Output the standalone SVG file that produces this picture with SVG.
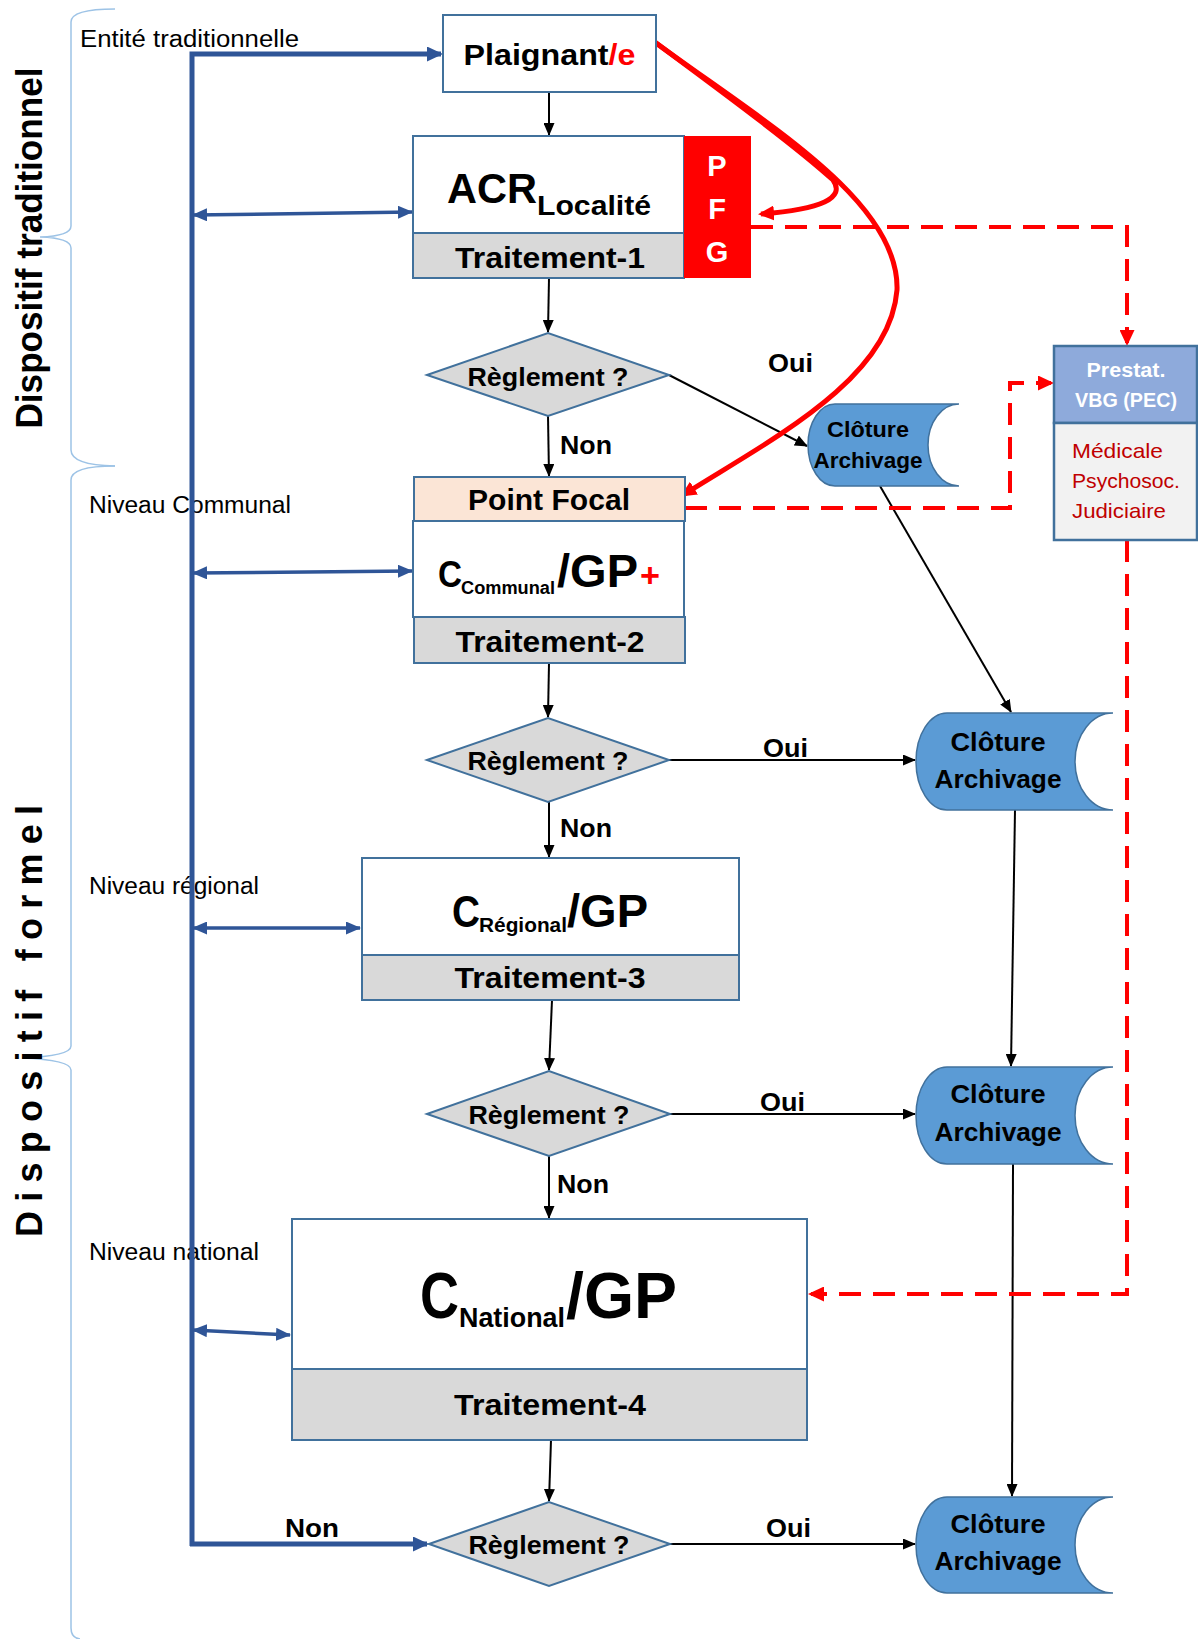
<svg xmlns="http://www.w3.org/2000/svg" width="1198" height="1639" viewBox="0 0 1198 1639">
<style>
text{font-family:"Liberation Sans",Arial,sans-serif;fill:#000}
.b{font-weight:bold}
.box{fill:#fff;stroke:#41719C;stroke-width:2}
.gray{fill:#D9D9D9;stroke:#41719C;stroke-width:2}
.dia{fill:#D9D9D9;stroke:#41719C;stroke-width:2}
.clo{fill:#5B9BD5;stroke:#41719C;stroke-width:1.5}
.blk{stroke:#000;stroke-width:2;fill:none;marker-end:url(#ak)}
.blue{stroke:#2F5597;stroke-width:5;fill:none;marker-end:url(#ab)}
.blue2{stroke:#2F5597;stroke-width:3.5;fill:none;marker-start:url(#ab2);marker-end:url(#ab2)}
.rd{stroke:#FF0000;stroke-width:4;stroke-dasharray:22 12;fill:none;marker-end:url(#ar)}
.rs{stroke:#FF0000;stroke-width:5;fill:none;marker-end:url(#ar)}
.brace{stroke:#9DC3E6;stroke-width:1.5;fill:none}
.lvl{font-size:23px}
.reg{font-size:26px;font-weight:bold}
.lab{font-size:26px;font-weight:bold}
.tr{font-size:30px;font-weight:bold}
.sub{font-weight:bold}
</style>
<defs>
<marker id="ak" viewBox="0 0 13 11" refX="12" refY="5.5" markerWidth="13" markerHeight="11" markerUnits="userSpaceOnUse" orient="auto"><path d="M0,0L13,5.5L0,11z" fill="#000"/></marker>
<marker id="ab" viewBox="0 0 16 15" refX="14" refY="7.5" markerWidth="16" markerHeight="15" markerUnits="userSpaceOnUse" orient="auto"><path d="M0,0L16,7.5L0,15z" fill="#2F5597"/></marker>
<marker id="ab2" viewBox="0 0 15 13" refX="14" refY="6.5" markerWidth="15" markerHeight="13" markerUnits="userSpaceOnUse" orient="auto-start-reverse"><path d="M0,0L15,6.5L0,13z" fill="#2F5597"/></marker>
<marker id="ar" viewBox="0 0 16 15" refX="13" refY="7.5" markerWidth="16" markerHeight="15" markerUnits="userSpaceOnUse" orient="auto"><path d="M0,0L16,7.5L0,15z" fill="#FF0000"/></marker>
</defs>
<rect width="1198" height="1639" fill="#fff"/>

<g id="side-labels">
<path class="brace" d="M115,9 Q71,9 71,22 L71,226 Q71,236 40,237 Q71,238 71,248 L71,450 Q71,465 115,466"/>
<path class="brace" d="M115,466 Q71,466 71,480 L71,1046 Q71,1056 22,1058 Q71,1060 71,1070 L71,1628 Q71,1638 80,1639"/>
<text class="b" font-size="36" textLength="361" lengthAdjust="spacingAndGlyphs" text-anchor="middle" transform="translate(42,248) rotate(-90)">Dispositif traditionnel</text>
<text class="b" font-size="36" textLength="432" text-anchor="middle" transform="translate(42,1021) rotate(-90)">Dispositif formel</text>
<text class="lvl" x="80" y="47" textLength="219" lengthAdjust="spacingAndGlyphs">Entité traditionnelle</text>
<text class="lvl" x="89" y="513" textLength="202" lengthAdjust="spacingAndGlyphs">Niveau Communal</text>
<text class="lvl" x="89" y="894" textLength="170" lengthAdjust="spacingAndGlyphs">Niveau régional</text>
<text class="lvl" x="89" y="1260" textLength="170" lengthAdjust="spacingAndGlyphs">Niveau national</text>
</g>

<g id="connectors">
<path class="blue" d="M192,1546 L192,54 L441,54"/>
<path class="blue" d="M190,1544 L427,1544"/>
<path class="blue2" d="M193,215 L412,212"/>
<path class="blue2" d="M193,573 L412,571"/>
<path class="blue2" d="M193,928 L360,928"/>
<path class="blue2" d="M193,1330 L290,1335"/>

<path class="blk" d="M549,92 L549,135"/>
<path class="blk" d="M549,278 L548,332"/>
<path class="blk" d="M548,416 L549,476"/>
<path class="blk" d="M669,375 L807,446"/>
<path class="blk" d="M880,486 L1011,712"/>
<path class="blk" d="M549,663 L548,717"/>
<path class="blk" d="M549,802 L549,857"/>
<path class="blk" d="M669,760 L915,760"/>
<path class="blk" d="M1015,810 L1011,1066"/>
<path class="blk" d="M552,1000 L549,1070"/>
<path class="blk" d="M670,1114 L915,1114"/>
<path class="blk" d="M549,1156 L549,1218"/>
<path class="blk" d="M1013,1164 L1012,1496"/>
<path class="blk" d="M551,1440 L549,1501"/>
<path class="blk" d="M670,1544 L915,1544"/>

<path class="rd" d="M751,227 H1127 V343"/>
<path class="rd" d="M685,508 H1010 V383 H1051"/>
<path class="rd" d="M1127,540 V1294 H811"/>

<path class="rs" d="M652,40 C740,105 800,150 833,180 Q852,207 761,214"/>
<path class="rs" d="M652,40 C760,120 900,200 897,290 C890,380 770,440 683,495"/>

<text class="lab" x="768" y="372" textLength="45" lengthAdjust="spacingAndGlyphs">Oui</text>
<text class="lab" x="763" y="757" textLength="45" lengthAdjust="spacingAndGlyphs">Oui</text>
<text class="lab" x="760" y="1111" textLength="45" lengthAdjust="spacingAndGlyphs">Oui</text>
<text class="lab" x="766" y="1537" textLength="45" lengthAdjust="spacingAndGlyphs">Oui</text>
<text class="lab" x="560" y="454" font-size="25" textLength="52" lengthAdjust="spacingAndGlyphs">Non</text>
<text class="lab" x="560" y="837" font-size="25" textLength="52" lengthAdjust="spacingAndGlyphs">Non</text>
<text class="lab" x="557" y="1193" font-size="25" textLength="52" lengthAdjust="spacingAndGlyphs">Non</text>
<text class="lab" x="285" y="1537" font-size="25" textLength="54" lengthAdjust="spacingAndGlyphs">Non</text>
</g>

<g id="plaignant">
<rect class="box" x="443" y="15" width="213" height="77"/>
<text class="b" x="549.5" y="65" font-size="30" text-anchor="middle" textLength="172" lengthAdjust="spacingAndGlyphs">Plaignant<tspan fill="#FF0000">/e</tspan></text>
</g>

<g id="acr">
<rect class="box" x="413" y="136" width="271" height="97"/>
<rect class="gray" x="413" y="233" width="271" height="45"/>
<rect x="684" y="136" width="67" height="142" fill="#FF0000"/>
<text class="b" x="447" y="203" font-size="42" textLength="90" lengthAdjust="spacingAndGlyphs">ACR</text>
<text class="sub" x="537" y="215" font-size="28" textLength="114" lengthAdjust="spacingAndGlyphs">Localité</text>
<text class="tr" x="550" y="268" text-anchor="middle" textLength="190" lengthAdjust="spacingAndGlyphs">Traitement-1</text>
<text class="b" x="717" y="176" font-size="29" text-anchor="middle" style="fill:#fff">P</text>
<text class="b" x="717" y="219" font-size="29" text-anchor="middle" style="fill:#fff">F</text>
<text class="b" x="717" y="262" font-size="29" text-anchor="middle" style="fill:#fff">G</text>
</g>

<g id="reglement-1">
<polygon class="dia" points="427,375 548,333 669,375 548,416"/>
<text class="reg" x="548" y="386" text-anchor="middle" textLength="161" lengthAdjust="spacingAndGlyphs">Règlement ?</text>
</g>

<g id="cloture-1">
<path class="clo" d="M835,404 H959 A31,41 0 0 0 959,486 H835 A27,41 0 0 1 835,404 Z"/>
<text class="b" x="868" y="437" font-size="22" text-anchor="middle" textLength="82" lengthAdjust="spacingAndGlyphs">Clôture</text>
<text class="b" x="868" y="468" font-size="22" text-anchor="middle" textLength="109" lengthAdjust="spacingAndGlyphs">Archivage</text>
</g>

<g id="prestat">
<rect x="1054" y="346" width="143" height="77" fill="#8EAADB" stroke="#41719C" stroke-width="2.5"/>
<rect x="1054" y="423" width="143" height="117" fill="#F2F2F2" stroke="#41719C" stroke-width="2.5"/>
<text class="b" x="1126" y="377" font-size="20" text-anchor="middle" textLength="79" lengthAdjust="spacingAndGlyphs" style="fill:#fff">Prestat.</text>
<text class="b" x="1126" y="407" font-size="20" text-anchor="middle" textLength="102" lengthAdjust="spacingAndGlyphs" style="fill:#fff">VBG (PEC)</text>
<text x="1072" y="458" font-size="21" textLength="91" lengthAdjust="spacingAndGlyphs" style="fill:#C00000">Médicale</text>
<text x="1072" y="488" font-size="21" textLength="108" lengthAdjust="spacingAndGlyphs" style="fill:#C00000">Psychosoc.</text>
<text x="1072" y="518" font-size="21" textLength="94" lengthAdjust="spacingAndGlyphs" style="fill:#C00000">Judiciaire</text>
</g>

<g id="communal">
<rect x="414" y="477" width="271" height="44" fill="#FBE5D6" stroke="#41719C" stroke-width="2"/>
<rect class="box" x="413" y="521" width="271" height="96"/>
<rect class="gray" x="414" y="617" width="271" height="46"/>
<text class="b" x="549" y="510" font-size="29" text-anchor="middle" textLength="162" lengthAdjust="spacingAndGlyphs">Point Focal</text>
<text class="b" x="438" y="587" font-size="36" textLength="24" lengthAdjust="spacingAndGlyphs">C</text>
<text class="sub" x="461" y="594" font-size="18" textLength="94" lengthAdjust="spacingAndGlyphs">Communal</text>
<text class="b" x="557" y="587" font-size="47" textLength="81" lengthAdjust="spacingAndGlyphs">/GP</text>
<text class="b" x="640" y="587" font-size="34" textLength="20" lengthAdjust="spacingAndGlyphs" style="fill:#FF0000">+</text>
<text class="tr" x="550" y="652" text-anchor="middle" textLength="189" lengthAdjust="spacingAndGlyphs">Traitement-2</text>
</g>

<g id="reglement-2">
<polygon class="dia" points="427,760 548,718 669,760 548,802"/>
<text class="reg" x="548" y="770" text-anchor="middle" textLength="161" lengthAdjust="spacingAndGlyphs">Règlement ?</text>
</g>

<g id="cloture-2">
<path class="clo" d="M947,713 H1113 A38,48.5 0 0 0 1113,810 H947 A31,48.5 0 0 1 947,713 Z"/>
<text class="b" x="998" y="751" font-size="26" text-anchor="middle" textLength="95" lengthAdjust="spacingAndGlyphs">Clôture</text>
<text class="b" x="998" y="788" font-size="26" text-anchor="middle" textLength="127" lengthAdjust="spacingAndGlyphs">Archivage</text>
</g>

<g id="regional">
<rect class="box" x="362" y="858" width="377" height="97"/>
<rect class="gray" x="362" y="955" width="377" height="45"/>
<text class="b" x="452" y="927" font-size="45" textLength="28" lengthAdjust="spacingAndGlyphs">C</text>
<text class="sub" x="479" y="932" font-size="21" textLength="88" lengthAdjust="spacingAndGlyphs">Régional</text>
<text class="b" x="567" y="927" font-size="46" textLength="81" lengthAdjust="spacingAndGlyphs">/GP</text>
<text class="tr" x="550" y="988" text-anchor="middle" textLength="191" lengthAdjust="spacingAndGlyphs">Traitement-3</text>
</g>

<g id="reglement-3">
<polygon class="dia" points="427,1114 549,1071 670,1114 549,1156"/>
<text class="reg" x="549" y="1124" text-anchor="middle" textLength="161" lengthAdjust="spacingAndGlyphs">Règlement ?</text>
</g>

<g id="cloture-3">
<path class="clo" d="M947,1067 H1113 A38,48.5 0 0 0 1113,1164 H947 A31,48.5 0 0 1 947,1067 Z"/>
<text class="b" x="998" y="1103" font-size="26" text-anchor="middle" textLength="95" lengthAdjust="spacingAndGlyphs">Clôture</text>
<text class="b" x="998" y="1141" font-size="26" text-anchor="middle" textLength="127" lengthAdjust="spacingAndGlyphs">Archivage</text>
</g>

<g id="national">
<rect class="box" x="292" y="1219" width="515" height="150"/>
<rect class="gray" x="292" y="1369" width="515" height="71"/>
<text class="b" x="420" y="1318" font-size="64" textLength="39" lengthAdjust="spacingAndGlyphs">C</text>
<text class="sub" x="459" y="1327" font-size="27" textLength="106" lengthAdjust="spacingAndGlyphs">National</text>
<text class="b" x="566" y="1318" font-size="64" textLength="111" lengthAdjust="spacingAndGlyphs">/GP</text>
<text class="tr" x="550" y="1415" text-anchor="middle" textLength="192" lengthAdjust="spacingAndGlyphs">Traitement-4</text>
</g>

<g id="reglement-4">
<polygon class="dia" points="429,1544 549,1502 670,1544 549,1586"/>
<text class="reg" x="549" y="1554" text-anchor="middle" textLength="161" lengthAdjust="spacingAndGlyphs">Règlement ?</text>
</g>

<g id="cloture-4">
<path class="clo" d="M947,1497 H1113 A38,48 0 0 0 1113,1593 H947 A31,48 0 0 1 947,1497 Z"/>
<text class="b" x="998" y="1533" font-size="26" text-anchor="middle" textLength="95" lengthAdjust="spacingAndGlyphs">Clôture</text>
<text class="b" x="998" y="1570" font-size="26" text-anchor="middle" textLength="127" lengthAdjust="spacingAndGlyphs">Archivage</text>
</g>
</svg>
